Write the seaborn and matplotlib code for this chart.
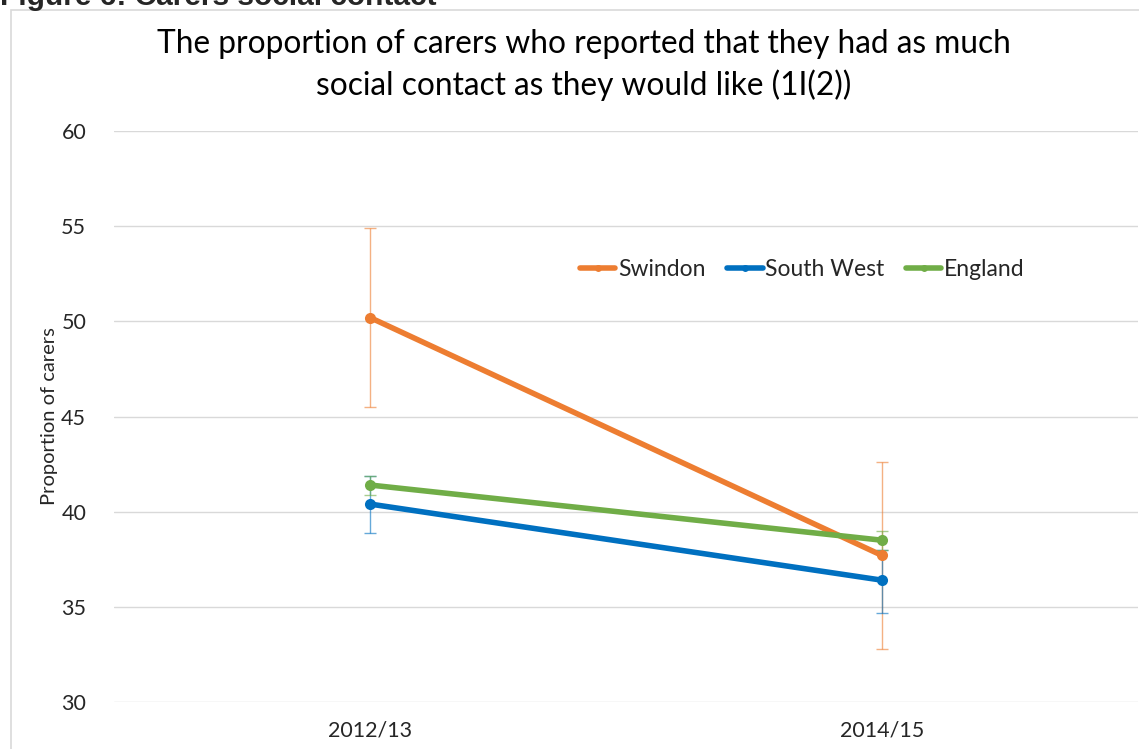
import matplotlib
matplotlib.use("Agg")
import matplotlib.pyplot as plt
import matplotlib.patches as mpatches
import seaborn as sns
import pandas as pd

years = ["2012/13", "2014/15"]
areas = ["Swindon", "South West", "England"]
swindon = [50.2, 37.7]
south_west = [40.4, 36.4]
england = [41.4, 38.5]
swindon_lo = [45.5, 32.8]
swindon_hi = [54.9, 42.6]
south_west_lo = [38.9, 34.7]
south_west_hi = [41.9, 38.0]
england_lo = [40.9, 38.0]
england_hi = [41.9, 39.0]

colors = {"Swindon": "#ED7D31", "South West": "#0070C0", "England": "#70AD47"}

df = pd.DataFrame({
    "year": years * 3,
    "area": [a for a in areas for _ in years],
    "value": swindon + south_west + england,
    "lo": swindon_lo + south_west_lo + england_lo,
    "hi": swindon_hi + south_west_hi + england_hi,
})

sns.set_style("white")
plt.rcParams["font.family"] = ["Lato", "DejaVu Sans"]

fig = plt.figure(figsize=(11.39, 7.49), dpi=100)
ax = fig.add_axes([114 / 1139, 1 - 702 / 749, 1024 / 1139, (702 - 131) / 749])

# outer chart frame
fig.patches.append(mpatches.Rectangle((11 / 1139, -0.1), 1.2, 1.1 - 10 / 749,
                                      transform=fig.transFigure, fill=False,
                                      edgecolor="#D9D9D9", linewidth=1.2))

# error bars (drawn under the lines)
for a in areas:
    d = df[df.area == a]
    xs = [years.index(y) for y in d.year]
    ax.errorbar(xs, d.value, yerr=[d.value - d.lo, d.hi - d.value], fmt="none",
                ecolor=colors[a], alpha=0.6, elinewidth=1, capsize=4, capthick=1, zorder=2)

sns.lineplot(data=df, x="year", y="value", hue="area", palette=colors,
             marker="o", markersize=8, markeredgewidth=0, linewidth=4,
             ax=ax, zorder=3)

ax.set_ylim(30, 60)
ax.set_xlim(-0.5, 1.5)
ax.set_yticks(range(30, 61, 5))
ax.grid(axis="y", color="#D9D9D9", linewidth=1)
ax.set_axisbelow(True)
for s in ax.spines.values():
    s.set_visible(False)
ax.tick_params(axis="both", length=0, labelsize=15.5, labelcolor="#262626")
ax.tick_params(axis="x", pad=13)
ax.tick_params(axis="y", pad=20)
ax.set_xlabel("")
ax.set_ylabel("Proportion of carers", fontsize=14.5, labelpad=2)

leg = ax.legend(loc="center", bbox_to_anchor=(0.672, 0.758), ncol=3, frameon=False,
                fontsize=16.5, handlelength=1.55, handletextpad=0.1, columnspacing=0.95)
for h in leg.get_lines():
    h.set_linewidth(4)
    h.set_markersize(5)

fig.text(584 / 1139, 1 - 65 / 749,
         "The proportion of carers who reported that they had as much\nsocial contact as they would like (1I(2))",
         ha="center", va="center", fontsize=22.8, color="#000000", linespacing=1.42)
fig.text(0, 1 - 5 / 749, "Figure 6: Carers social contact", ha="left", va="baseline",
         fontsize=21.5, fontweight="bold", family=["Liberation Sans", "DejaVu Sans"])

fig.savefig("out.png", dpi=100)
